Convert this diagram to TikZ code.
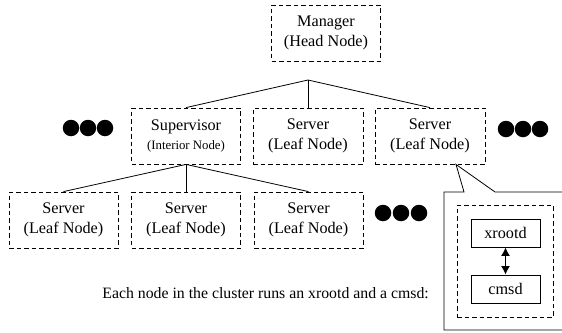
\documentclass[tikz,border=0pt]{standalone}
\usepackage{fontspec}
\setmainfont{Liberation Serif}
\usetikzlibrary{arrows.meta}
\tikzset{
  box/.style={draw, dash pattern=on 4.5pt off 3pt, line width=0.8pt, minimum width=109pt, minimum height=56pt, inner sep=0pt, align=center, font=\fontsize{16.2}{19.5}\selectfont},
  proc/.style={draw, line width=0.8pt, minimum width=69pt, minimum height=28pt, inner sep=0pt, font=\fontsize{16.2}{19.5}\selectfont},
  link/.style={line width=0.8pt},
  blob/.style={fill=black, circle, minimum size=16.5pt, inner sep=0pt},
}
\begin{document}
\begin{tikzpicture}[x=1pt,y=-1pt]
\useasboundingbox (0,0) rectangle (562,332);
% top
\node[box] (mgr) at (326,33) {Manager\\(Head Node)};
\coordinate (apex) at (308,80);
% row 2
\node[box] (sup) at (186,136) {Supervisor\\{\fontsize{12.8}{15}\selectfont (Interior Node)}};
\node[box, minimum width=110pt] (s2) at (308,136) {Server\\(Leaf Node)};
\node[box, minimum width=110pt] (s3) at (430,136) {Server\\(Leaf Node)};
% row 3
\node[box] (l1) at (63.5,220) {Server\\(Leaf Node)};
\node[box] (l2) at (186,220) {Server\\(Leaf Node)};
\node[box] (l3) at (308.5,220) {Server\\(Leaf Node)};
% dots
\node[blob] (d1) at (71,128) {};
\node[blob] (d2) at (88,128) {};
\node[blob] (d3) at (105,128) {};
\node[blob] (d4) at (506,129) {};
\node[blob] (d5) at (523,129) {};
\node[blob] (d6) at (540,129) {};
\node[blob] (d7) at (383,213) {};
\node[blob] (d8) at (401,213) {};
\node[blob] (d9) at (419,213) {};
% connectors
\draw[link] (apex) -- (sup.north);
\draw[link] (apex) -- (s2.north);
\draw[link] (apex) -- (s3.north);
\draw[link] (sup.south) -- (l1.north);
\draw[link] (sup.south) -- (l2.north);
\draw[link] (sup.south) -- (l3.north);
% callout
\coordinate (tip) at ([xshift=26pt]s3.south);
\draw[link] (562,192) -- (495,192) -- (tip) -- (464,192) -- (444,192) -- (444,330) -- (562,330);
\node[draw, dash pattern=on 4.5pt off 3pt, line width=0.8pt, minimum width=96pt, minimum height=112pt, inner sep=0pt] (inner) at (505,261) {};
\node[proc] (xr) at (505.5,233) {xrootd};
\node[proc] (cm) at (505.5,289) {cmsd};
\draw[line width=1.3pt, {Latex[length=8.5pt,width=9pt]}-{Latex[length=8.5pt,width=9pt]}] (xr.south) -- (cm.north);
% caption
\node[anchor=east, inner sep=0pt, font=\fontsize{15.8}{19}\selectfont] (cap) at (429,293) {Each node in the cluster runs an xrootd and a cmsd:};
\end{tikzpicture}
\end{document}
